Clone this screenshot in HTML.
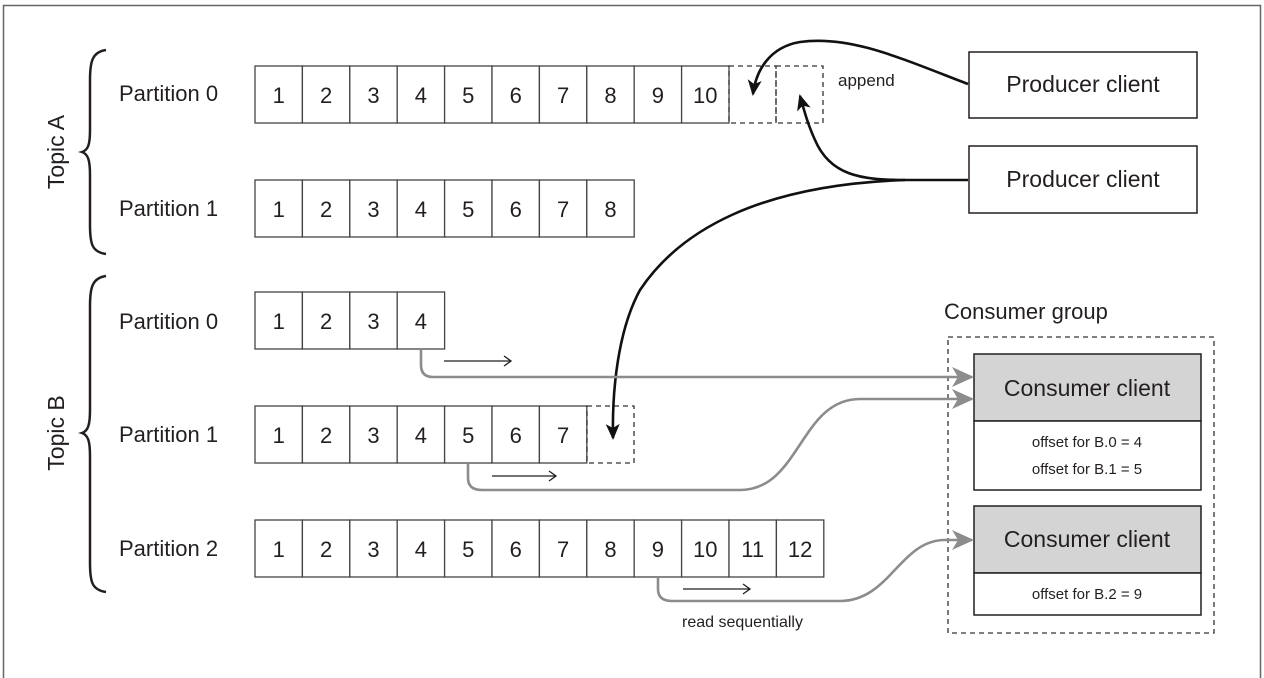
<!DOCTYPE html>
<html><head><meta charset="utf-8"><style>
html,body{margin:0;padding:0;background:#fff;}
svg{display:block;}
text{font-family:"Liberation Sans",sans-serif;fill:#231f20;}
</style></head><body>
<svg width="1264" height="678" viewBox="0 0 1264 678" xmlns="http://www.w3.org/2000/svg">
<defs>
<marker id="bk" markerWidth="16" markerHeight="16" refX="14" refY="8" orient="auto" markerUnits="userSpaceOnUse" viewBox="0 0 16 16"><path d="M0,1 L16,8 L0,15 L4,8 z" fill="#111"/></marker>
<marker id="gr" markerWidth="22" markerHeight="22" refX="20" refY="11" orient="auto" markerUnits="userSpaceOnUse" viewBox="0 0 22 22"><path d="M0,1 L22,11 L0,21 L6,11 z" fill="#8c8c8c"/></marker>
<g id="c"><rect x="0" y="0" width="47.4" height="57" fill="#fff" stroke="#444" stroke-width="1.3"/></g>
</defs>
<rect x="3.5" y="5.5" width="1257" height="700" fill="none" stroke="#666" stroke-width="1.5"/>

<path d="M106,50 C92,52 90,62 90,80 L90,130 C90,145 88,150 82,152 C88,154 90,160 90,175 L90,225 C90,244 92,252 106,254" fill="none" stroke="#231f20" stroke-width="2.5"/>
<path d="M106,276 C92,278 90,288 90,306 L90,410 C90,425 88,431 82,433 C88,435 90,441 90,456 L90,563 C90,582 92,590 106,592" fill="none" stroke="#231f20" stroke-width="2.5"/>
<text transform="translate(64,152) rotate(-90)" text-anchor="middle" font-size="23">Topic A</text>
<text transform="translate(64,433) rotate(-90)" text-anchor="middle" font-size="23">Topic B</text>

<g font-size="22">
<text x="119" y="101">Partition 0</text>
<text x="119" y="216">Partition 1</text>
<text x="119" y="329">Partition 0</text>
<text x="119" y="442">Partition 1</text>
<text x="119" y="556">Partition 2</text>
</g>

<!-- row A0 -->
<g transform="translate(0,66)">
<use href="#c" x="255"/><use href="#c" x="302.4"/><use href="#c" x="349.8"/><use href="#c" x="397.2"/><use href="#c" x="444.6"/><use href="#c" x="492"/><use href="#c" x="539.4"/><use href="#c" x="586.8"/><use href="#c" x="634.2"/><use href="#c" x="681.6"/>
<g font-size="22" text-anchor="middle"><text x="278.7" y="37">1</text><text x="326.1" y="37">2</text><text x="373.5" y="37">3</text><text x="420.9" y="37">4</text><text x="468.3" y="37">5</text><text x="515.7" y="37">6</text><text x="563.1" y="37">7</text><text x="610.5" y="37">8</text><text x="657.9" y="37">9</text><text x="705.3" y="37">10</text></g>
</g>
<!-- row A1 -->
<g transform="translate(0,180)">
<use href="#c" x="255"/><use href="#c" x="302.4"/><use href="#c" x="349.8"/><use href="#c" x="397.2"/><use href="#c" x="444.6"/><use href="#c" x="492"/><use href="#c" x="539.4"/><use href="#c" x="586.8"/>
<g font-size="22" text-anchor="middle"><text x="278.7" y="37">1</text><text x="326.1" y="37">2</text><text x="373.5" y="37">3</text><text x="420.9" y="37">4</text><text x="468.3" y="37">5</text><text x="515.7" y="37">6</text><text x="563.1" y="37">7</text><text x="610.5" y="37">8</text></g>
</g>
<!-- row B0 -->
<g transform="translate(0,292)">
<use href="#c" x="255"/><use href="#c" x="302.4"/><use href="#c" x="349.8"/><use href="#c" x="397.2"/>
<g font-size="22" text-anchor="middle"><text x="278.7" y="37">1</text><text x="326.1" y="37">2</text><text x="373.5" y="37">3</text><text x="420.9" y="37">4</text></g>
</g>
<!-- row B1 -->
<g transform="translate(0,406)">
<use href="#c" x="255"/><use href="#c" x="302.4"/><use href="#c" x="349.8"/><use href="#c" x="397.2"/><use href="#c" x="444.6"/><use href="#c" x="492"/><use href="#c" x="539.4"/>
<g font-size="22" text-anchor="middle"><text x="278.7" y="37">1</text><text x="326.1" y="37">2</text><text x="373.5" y="37">3</text><text x="420.9" y="37">4</text><text x="468.3" y="37">5</text><text x="515.7" y="37">6</text><text x="563.1" y="37">7</text></g>
</g>
<!-- row B2 -->
<g transform="translate(0,520)">
<use href="#c" x="255"/><use href="#c" x="302.4"/><use href="#c" x="349.8"/><use href="#c" x="397.2"/><use href="#c" x="444.6"/><use href="#c" x="492"/><use href="#c" x="539.4"/><use href="#c" x="586.8"/><use href="#c" x="634.2"/><use href="#c" x="681.6"/><use href="#c" x="729"/><use href="#c" x="776.4"/>
<g font-size="22" text-anchor="middle"><text x="278.7" y="37">1</text><text x="326.1" y="37">2</text><text x="373.5" y="37">3</text><text x="420.9" y="37">4</text><text x="468.3" y="37">5</text><text x="515.7" y="37">6</text><text x="563.1" y="37">7</text><text x="610.5" y="37">8</text><text x="657.9" y="37">9</text><text x="705.3" y="37">10</text><text x="752.7" y="37">11</text><text x="800.1" y="37">12</text></g>
</g>

<g fill="none" stroke="#333" stroke-width="1.3" stroke-dasharray="5,4">
<rect x="729" y="66" width="47" height="57"/>
<rect x="776" y="66" width="47" height="57"/>
<rect x="587" y="406" width="47" height="57"/>
<rect x="948" y="337" width="266" height="296"/>
</g>
<text x="838" y="86" font-size="17">append</text>

<rect x="969" y="52" width="228" height="66" fill="#fff" stroke="#231f20" stroke-width="1.5"/>
<text x="1083" y="92" font-size="23" text-anchor="middle">Producer client</text>
<rect x="969" y="146" width="228" height="67" fill="#fff" stroke="#231f20" stroke-width="1.5"/>
<text x="1083" y="187" font-size="23" text-anchor="middle">Producer client</text>

<text x="944" y="319" font-size="22">Consumer group</text>
<rect x="974" y="354" width="227" height="67" fill="#d4d4d4" stroke="#231f20" stroke-width="1.5"/>
<rect x="974" y="421" width="227" height="69" fill="#fff" stroke="#231f20" stroke-width="1.5"/>
<text x="1087" y="396" font-size="23" text-anchor="middle">Consumer client</text>
<text x="1087" y="447" font-size="15" text-anchor="middle">offset for B.0 = 4</text>
<text x="1087" y="474" font-size="15" text-anchor="middle">offset for B.1 = 5</text>
<rect x="974" y="506" width="227" height="67" fill="#d4d4d4" stroke="#231f20" stroke-width="1.5"/>
<rect x="974" y="573" width="227" height="42" fill="#fff" stroke="#231f20" stroke-width="1.5"/>
<text x="1087" y="547" font-size="23" text-anchor="middle">Consumer client</text>
<text x="1087" y="599" font-size="15" text-anchor="middle">offset for B.2 = 9</text>

<g fill="none" stroke="#111" stroke-width="2.6">
<path d="M968,84 C900,58 850,35 800,42 C770,47 756,70 753,94" marker-end="url(#bk)"/>
<path d="M968,180 L905,180 C860,180 830,175 815,140 C808,125 804,110 800,96" marker-end="url(#bk)"/>
<path d="M905,180 C760,185 680,230 640,290 C618,330 612,390 613,438" marker-end="url(#bk)"/>
</g>

<g fill="none" stroke="#8c8c8c" stroke-width="2.6">
<path d="M421,350 L421,365 Q421,377 433,377 L972,377" marker-end="url(#gr)"/>
<path d="M468,463 L468,478 Q468,490 482,490 L740,490 C800,490 800,399 860,399 L972,399" marker-end="url(#gr)"/>
<path d="M658,577 L658,589 Q658,601 672,601 L840,601 C890,601 900,540 945,540 L972,540" marker-end="url(#gr)"/>
</g>
<g fill="none" stroke="#231f20" stroke-width="1.3">
<path d="M444,361 L511,361 M504,356 L511,361 L504,366"/>
<path d="M492,476 L556,476 M549,471 L556,476 L549,481"/>
<path d="M683,589 L750,589 M743,584 L750,589 L743,594"/>
</g>
<text x="682" y="627" font-size="16">read sequentially</text>
</svg>
</body></html>
